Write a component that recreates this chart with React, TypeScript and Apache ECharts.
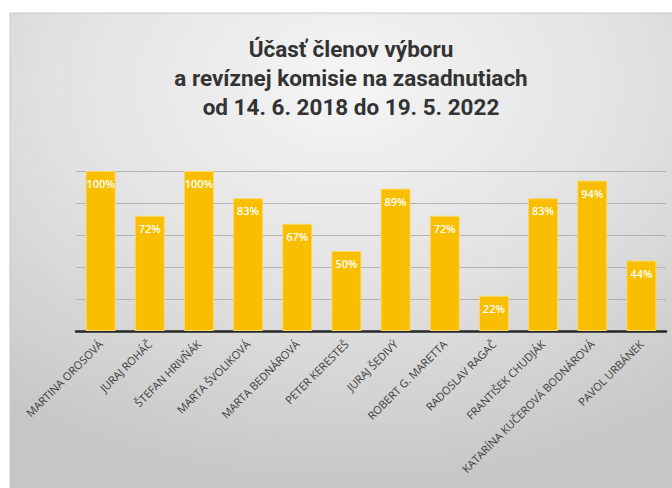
import React, { useEffect, useRef } from "react";
import * as echarts from "echarts";

const titleLines = [
  "Účasť členov výboru",
  "a revíznej komisie na zasadnutiach",
  "od 14. 6. 2018 do 19. 5. 2022",
];
const members = [
  "MARTINA OROSOVÁ",
  "JURAJ ROHÁČ",
  "ŠTEFAN HRIVŇÁK",
  "MARTA ŠVOLIKOVÁ",
  "MARTA BEDNÁROVÁ",
  "PETER KERESTEŠ",
  "JURAJ ŠEDIVÝ",
  "ROBERT G. MARETTA",
  "RADOSLAV RAGAČ",
  "FRANTIŠEK CHUDJÁK",
  "KATARÍNA KUČEROVÁ BODNÁROVÁ",
  "PAVOL URBÁNEK",
];
const attendance = [100, 72, 100, 83, 67, 50, 89, 72, 22, 83, 94, 44];

export default function App() {
  const ref = useRef<HTMLDivElement>(null);
  useEffect(() => {
    if (!ref.current) return;
    const chart = echarts.init(ref.current, null, { renderer: "svg" });
    chart.setOption({
      animation: false,
      graphic: [
        {
          type: "rect",
          z: -10,
          silent: true,
          shape: { x: 10, y: 13, width: 670, height: 480 },
          style: {
            fill: new echarts.graphic.RadialGradient(0.5, 0.15, 0.85, [
              { offset: 0, color: "#f5f5f5" },
              { offset: 0.5, color: "#e2e2e2" },
              { offset: 1, color: "#c6c6c6" },
            ]),
            stroke: "#c8c8c8",
            lineWidth: 1,
          },
        },
      ],
      title: {
        text: titleLines.join("\n"),
        left: 346,
        textAlign: "center",
        top: 29,
        textStyle: {
          fontFamily: "Roboto",
          fontSize: 22.5,
          fontWeight: "bold",
          color: "#333333",
          lineHeight: 29,
        },
      },
      grid: { left: 76, right: 6, top: 171, bottom: 157 },
      xAxis: {
        type: "category",
        data: members,
        axisLine: { lineStyle: { color: "#262626", width: 2.5 } },
        axisTick: { show: false },
        axisLabel: {
          interval: 0,
          rotate: 45,
          margin: 11,
          fontFamily: "Open Sans",
          fontSize: 11,
          color: "#404040",
        },
      },
      yAxis: {
        type: "value",
        min: 0,
        max: 100,
        interval: 20,
        axisLabel: { show: false },
        axisLine: { show: false },
        axisTick: { show: false },
        splitLine: { lineStyle: { color: "#b4b4b4", width: 1 } },
      },
      series: [
        {
          type: "bar",
          data: attendance,
          barCategoryGap: "39%",
          itemStyle: {
            color: "#FABE00",
            borderColor: "#fcd86a",
            borderWidth: 1,
          },
          label: {
            show: true,
            position: "insideTop",
            distance: 7,
            formatter: "{c}%",
            fontFamily: "Open Sans",
            fontSize: 11,
            fontWeight: 600,
            color: "#ffffff",
          },
        },
      ],
    });
    return () => chart.dispose();
  }, []);
  return (
    <div
      ref={ref}
      style={{ position: "fixed", left: 0, top: 0, width: 672, height: 488, background: "#ffffff" }}
    />
  );
}
